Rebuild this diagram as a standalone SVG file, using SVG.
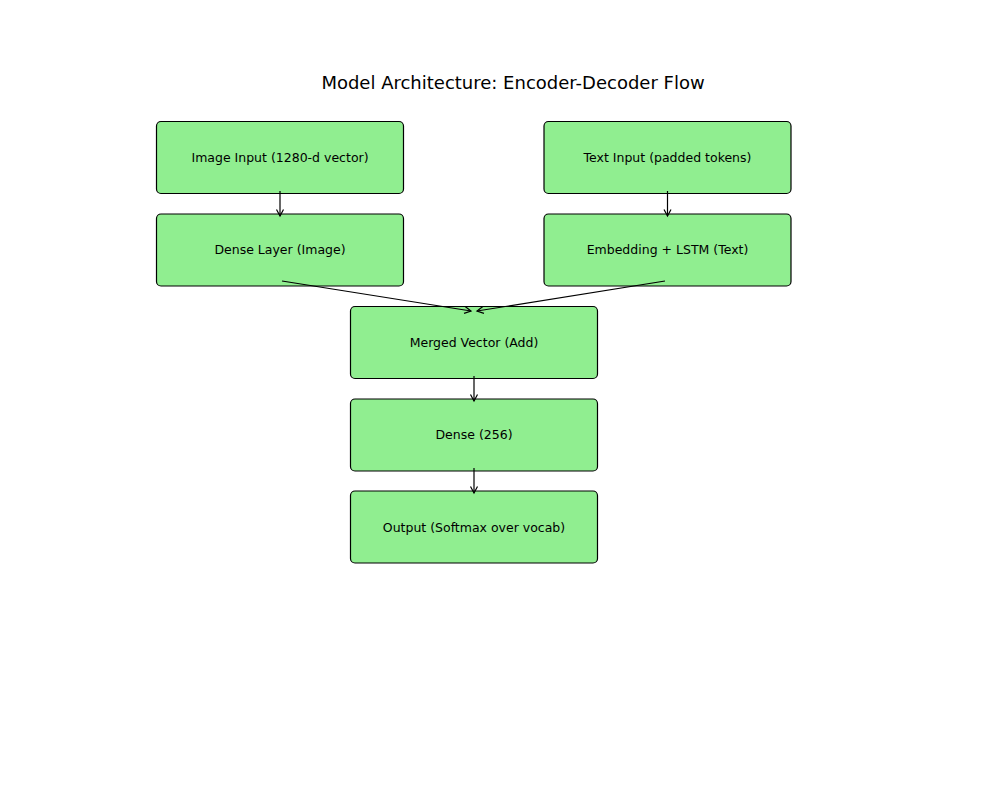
<svg xmlns="http://www.w3.org/2000/svg" width="1000" height="800" viewBox="0 0 1000 800">
<style>
.box{fill:#90ee90;stroke:#000;stroke-width:1.2}
.lbl{font-family:"DejaVu Sans",sans-serif;font-size:12.5px;fill:#000;text-anchor:middle;dominant-baseline:central}
.title{font-family:"DejaVu Sans",sans-serif;font-size:18px;fill:#000;text-anchor:middle;dominant-baseline:central}
.edge{stroke:#000;stroke-width:1.2;fill:none;marker-end:url(#arr)}
</style>
<defs>
<marker id="arr" markerUnits="userSpaceOnUse" viewBox="-8 -5 10 10" markerWidth="10" markerHeight="10" refX="0" refY="0" orient="auto">
<path d="M-6.5,-3.5 L0,0 L-6.5,3.5" fill="none" stroke="#000" stroke-width="1.2"/>
</marker>
</defs>
<rect width="1000" height="800" fill="#fff"/>
<text class="title" x="513" y="82">Model Architecture: Encoder-Decoder Flow</text>
<g id="image_input"><rect class="box" x="156.5" y="121.5" width="247" height="72" rx="4.5"/><text class="lbl" x="280" y="157">Image Input (1280-d vector)</text></g>
<g id="text_input"><rect class="box" x="544" y="121.5" width="247" height="72" rx="4.5"/><text class="lbl" x="667.5" y="157">Text Input (padded tokens)</text></g>
<g id="dense_image"><rect class="box" x="156.5" y="214" width="247" height="72" rx="4.5"/><text class="lbl" x="280" y="249">Dense Layer (Image)</text></g>
<g id="embed_lstm"><rect class="box" x="544" y="214" width="247" height="72" rx="4.5"/><text class="lbl" x="667.5" y="249">Embedding + LSTM (Text)</text></g>
<g id="merged"><rect class="box" x="350.5" y="306.5" width="247" height="72" rx="4.5"/><text class="lbl" x="474" y="342">Merged Vector (Add)</text></g>
<g id="dense256"><rect class="box" x="350.5" y="399" width="247" height="72" rx="4.5"/><text class="lbl" x="474" y="434">Dense (256)</text></g>
<g id="output"><rect class="box" x="350.5" y="491" width="247" height="72" rx="4.5"/><text class="lbl" x="474" y="527">Output (Softmax over vocab)</text></g>
<g id="connectors">
<line class="edge" x1="280" y1="191" x2="280" y2="216"/>
<line class="edge" x1="667.5" y1="191" x2="667.5" y2="216"/>
<line class="edge" x1="282" y1="281" x2="471" y2="311"/>
<line class="edge" x1="665" y1="281" x2="477" y2="311"/>
<line class="edge" x1="474" y1="376" x2="474" y2="401"/>
<line class="edge" x1="474" y1="468" x2="474" y2="493"/>
</g>
</svg>
